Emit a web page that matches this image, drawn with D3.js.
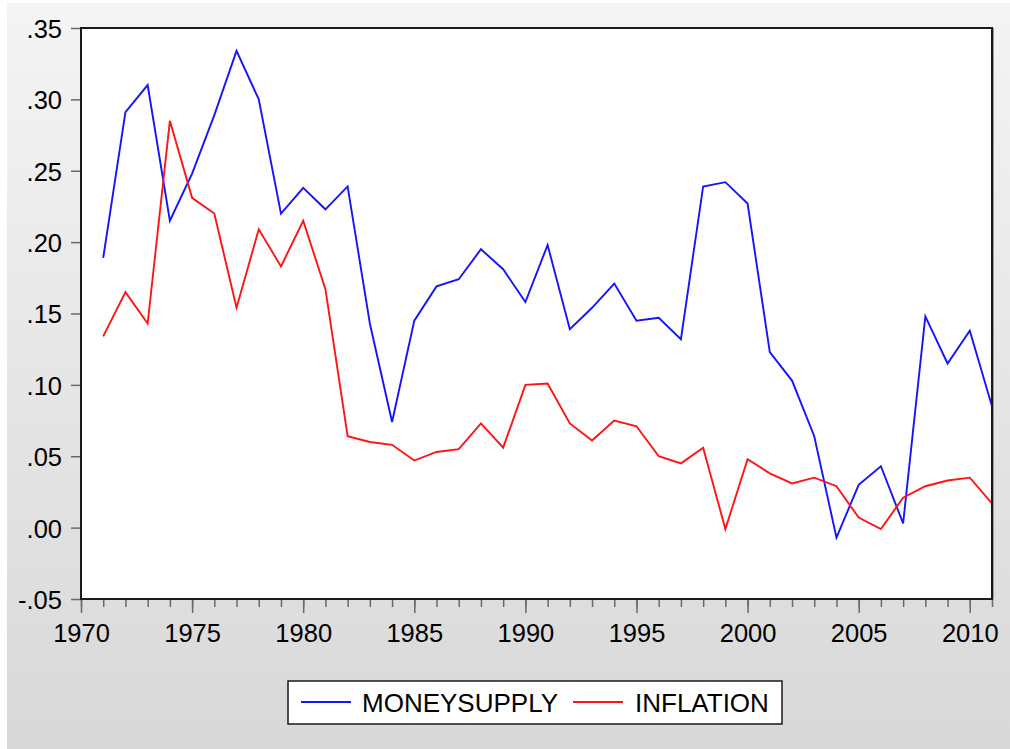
<!DOCTYPE html>
<html>
<head>
<meta charset="utf-8">
<script src="https://cdn.jsdelivr.net/npm/d3@7"></script>
<style>
  html, body { margin: 0; padding: 0; background: #fff; }
  svg { display: block; }
  text { font-family: "Liberation Sans", Arial, sans-serif; fill: #000; }
</style>
</head>
<body>
<svg id="theSvg"></svg>
<script>
// annual values
const years = d3.range(1971, 2012);

const moneySupply = [
  0.189, 0.291, 0.310, 0.215, 0.248, 0.289, 0.334, 0.300, 0.220, 0.238,
  0.223, 0.239, 0.143, 0.074, 0.145, 0.169, 0.174, 0.195, 0.181, 0.158,
  0.198, 0.139, 0.154, 0.171, 0.145, 0.147, 0.132, 0.239, 0.242, 0.227,
  0.123, 0.103, 0.064, -0.007, 0.030, 0.043, 0.003, 0.148, 0.115, 0.138,
  0.085
];

const inflation = [
  0.134, 0.165, 0.143, 0.285, 0.231, 0.220, 0.154, 0.209, 0.183, 0.215,
  0.167, 0.064, 0.060, 0.058, 0.047, 0.053, 0.055, 0.073, 0.056, 0.100,
  0.101, 0.073, 0.061, 0.075, 0.071, 0.050, 0.045, 0.056, -0.001, 0.048,
  0.038, 0.031, 0.035, 0.029, 0.007, -0.001, 0.021, 0.029, 0.033, 0.035,
  0.017
];

const seriesNames = ["MONEYSUPPLY", "INFLATION"];
const seriesColours = ["#1414ff", "#ff1414"];
const yTicks = [-0.05, 0, 0.05, 0.10, 0.15, 0.20, 0.25, 0.30, 0.35];
const xMajorTicks = [1970, 1975, 1980, 1985, 1990, 1995, 2000, 2005, 2010];

const width = 1010, height = 749;
const margin = {top: 28, right: 18, bottom: 150, left: 81};

const svg = d3.select("#theSvg")
  .attr("width", width)
  .attr("height", height)
  .attr("viewBox", [0, 0, width, height]);

// grey panel behind everything
const grad = svg.append("defs").append("linearGradient")
  .attr("id", "bg").attr("x1", 0).attr("y1", 0).attr("x2", 0).attr("y2", 1);
grad.append("stop").attr("offset", "0%").attr("stop-color", "#f4f4f4");
grad.append("stop").attr("offset", "100%").attr("stop-color", "#d8d8d8");

svg.append("rect")
  .attr("x", 7).attr("y", 3)
  .attr("width", width - 7).attr("height", height - 3)
  .attr("fill", "url(#bg)");

const x = d3.scaleLinear()
  .domain([1970, 2011])
  .range([margin.left, width - margin.right]);

const y = d3.scaleLinear()
  .domain([-0.05, 0.35])
  .range([height - margin.bottom, margin.top]);

// plot area
svg.append("rect")
  .attr("x", x(1970)).attr("y", y(0.35))
  .attr("width", x(2011) - x(1970))
  .attr("height", y(-0.05) - y(0.35))
  .attr("fill", "#fff");

// y axis
const yAxis = svg.append("g")
  .attr("transform", "translate(" + x(1970) + ",0)")
  .call(d3.axisLeft(y)
    .tickValues(yTicks)
    .tickSize(10)
    .tickPadding(9)
    .tickFormat(d => d3.format(".2f")(d).replace("\u2212", "-").replace("0.", ".")));
yAxis.select(".domain").remove();
yAxis.selectAll(".tick line").attr("stroke", "#6a6a6a").attr("stroke-width", 1.5);
yAxis.selectAll(".tick text")
  .attr("font-size", 25.5)
  .attr("font-family", "Liberation Sans, Arial, sans-serif")
  .attr("fill", "#000")
  .attr("dy", "0.37em");

// x axis: minor ticks every year, labels every 5 years
const xAxisY = y(-0.05);
const xMinor = svg.append("g")
  .attr("transform", "translate(0," + xAxisY + ")")
  .call(d3.axisBottom(x)
    .tickValues(d3.range(1970, 2012))
    .tickSize(8)
    .tickFormat(""));
xMinor.select(".domain").remove();
xMinor.selectAll(".tick line").attr("stroke", "#6a6a6a").attr("stroke-width", 1.5);

const xAxis = svg.append("g")
  .attr("transform", "translate(0," + xAxisY + ")")
  .call(d3.axisBottom(x)
    .tickValues(xMajorTicks)
    .tickSize(14)
    .tickPadding(11)
    .tickFormat(d3.format("d")));
xAxis.select(".domain").remove();
xAxis.selectAll(".tick line").attr("stroke", "#6a6a6a").attr("stroke-width", 1.5);
xAxis.selectAll(".tick text")
  .attr("font-size", 25.5)
  .attr("font-family", "Liberation Sans, Arial, sans-serif")
  .attr("fill", "#000");

// lines
const line = d3.line()
  .x((d, i) => x(years[i]))
  .y(d => y(d));

const clip = svg.select("defs").append("clipPath").attr("id", "plotClip");
clip.append("rect")
  .attr("x", x(1970)).attr("y", y(0.35))
  .attr("width", x(2011) - x(1970))
  .attr("height", y(-0.05) - y(0.35));

const lines = svg.append("g")
  .attr("clip-path", "url(#plotClip)")
  .attr("fill", "none")
  .attr("stroke-width", 1.9)
  .attr("stroke-linejoin", "miter");

[moneySupply, inflation].forEach(function(series, i) {
  lines.append("path")
    .attr("d", line(series))
    .attr("stroke", seriesColours[i]);
});

// frame
svg.append("line")
  .attr("x1", x(2011) + 1.5).attr("x2", x(2011) + 1.5)
  .attr("y1", y(0.35)).attr("y2", y(-0.05))
  .attr("stroke", "#9a9a9a").attr("stroke-width", 1);
svg.append("rect")
  .attr("x", x(1970)).attr("y", y(0.35))
  .attr("width", x(2011) - x(1970))
  .attr("height", y(-0.05) - y(0.35))
  .attr("fill", "none")
  .attr("stroke", "#1a1a1a")
  .attr("stroke-width", 2);

// legend
const legend = svg.append("g").attr("transform", "translate(288,681)");
legend.append("rect")
  .attr("width", 494).attr("height", 43)
  .attr("fill", "#fff")
  .attr("stroke", "#1a1a1a")
  .attr("stroke-width", 1.5);

const legendX = [{line: 13, text: 74}, {line: 285, text: 347}];
seriesNames.forEach(function(name, i) {
  legend.append("line")
    .attr("x1", legendX[i].line).attr("x2", legendX[i].line + 50)
    .attr("y1", 21).attr("y2", 21)
    .attr("stroke", seriesColours[i])
    .attr("stroke-width", 1.9);
  legend.append("text")
    .attr("x", legendX[i].text)
    .attr("y", 30.5)
    .attr("font-size", 26)
    .text(name);
});
</script>
</body>
</html>
